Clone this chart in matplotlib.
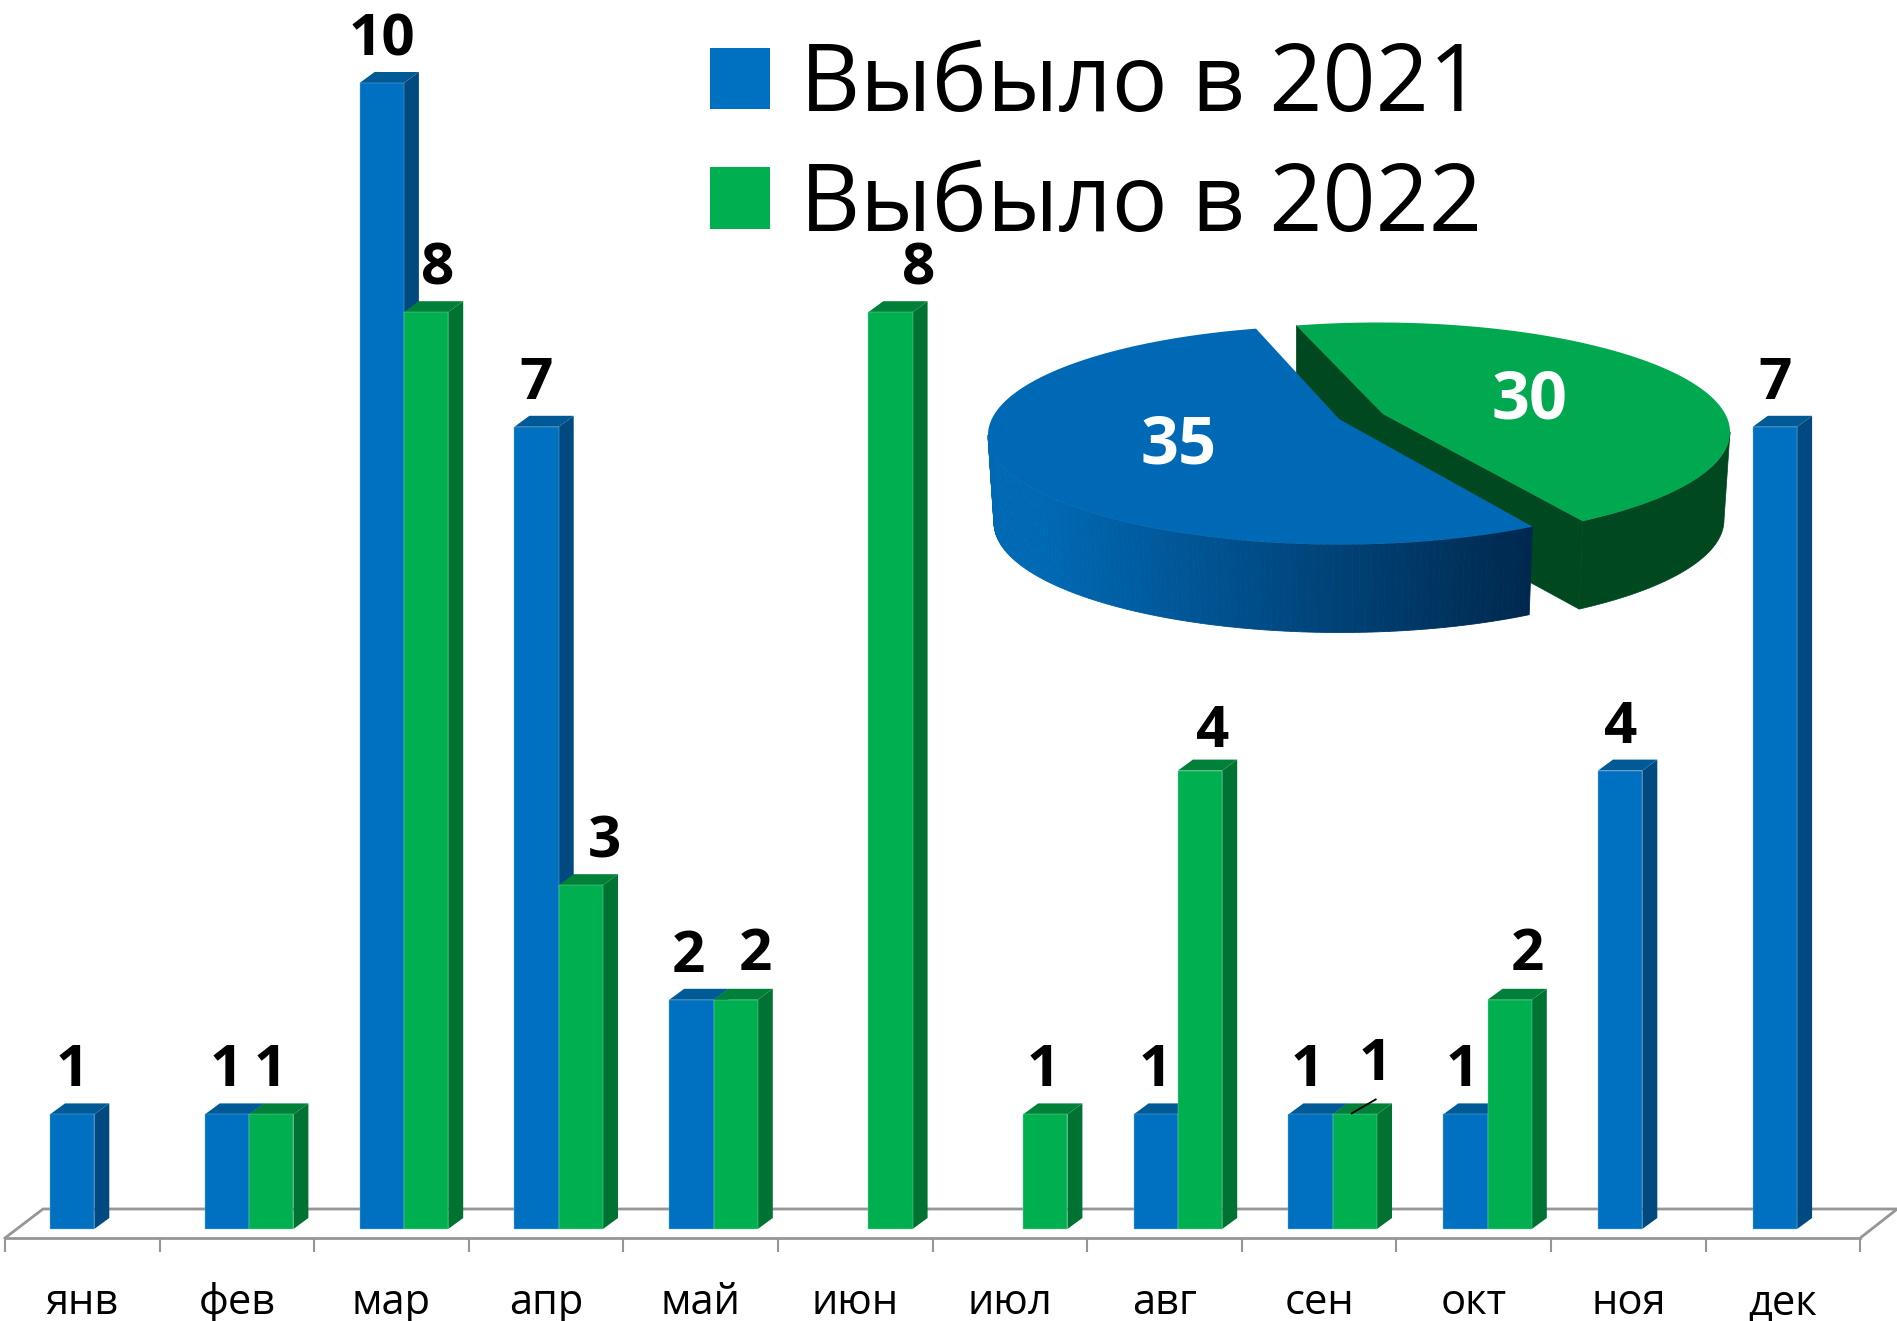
import numpy as np
import matplotlib
matplotlib.use("Agg")
import matplotlib.pyplot as plt
from matplotlib.patches import Polygon, Patch

months = ["янв", "фев", "мар", "апр", "май", "июн", "июл", "авг", "сен", "окт", "ноя", "дек"]
left_2021 = [1, 1, 10, 7, 2, 0, 0, 1, 1, 1, 4, 7]
right_2022 = [0, 1, 8, 3, 2, 8, 1, 4, 1, 2, 0, 0]
pie_values = [35, 30]
series_names = ["Выбыло в 2021", "Выбыло в 2022"]

W, H = 1897, 1321
FONT = ["Open Sans", "DejaVu Sans"]
plt.rcParams["font.family"] = FONT

BLUE, BLUE_SIDE, BLUE_TOP, BLUE_EDGE = "#0070c0", "#004a80", "#005a96", "#7fb7e0"
GREEN, GREEN_SIDE, GREEN_TOP, GREEN_EDGE = "#00b050", "#007232", "#008038", "#7fd8a8"
GREY = "#969696"

PX_X, PX_Y = 154.6, 114.6
X0_PX, Y0_PX = 5, 1229

fig = plt.figure(figsize=(W / 100, H / 100), dpi=100, facecolor="white")
ax = fig.add_axes([0, 0, 1, 1])
ax.set_xlim(-X0_PX / PX_X, (W - X0_PX) / PX_X)
ax.set_ylim(-(H - Y0_PX) / PX_Y, Y0_PX / PX_Y)
ax.patch.set_alpha(0)

# category axis moved to the front edge of the floor
for s in ("top", "left", "right"):
    ax.spines[s].set_visible(False)
ax.yaxis.set_visible(False)
FRONT = -9 / PX_Y
BACK = 20 / PX_Y
ax.spines["bottom"].set_position(("data", FRONT))
ax.spines["bottom"].set_bounds(0, 12)
ax.spines["bottom"].set_color(GREY)
ax.spines["bottom"].set_linewidth(2)
ax.set_xticks(np.arange(13))
ax.set_xticklabels([])
ax.set_xticks(np.arange(12) + 0.5, minor=True)
ax.set_xticklabels(months, minor=True, fontsize=30, color="black")
ax.tick_params(axis="x", which="major", length=10, width=1.5, color=GREY)
ax.tick_params(axis="x", which="minor", length=0, pad=32)

# floor outline
ax.plot([0, 38 / PX_X, 12 + 37 / PX_X, 12], [FRONT, BACK, BACK, FRONT], color=GREY, lw=2,
        solid_joinstyle="miter", zorder=1, clip_on=False)

BAR_W = 44.3 / PX_X
PITCH = 154.8 / PX_X
START = 45 / PX_X
DX, DY = 15 / PX_X, 11 / PX_Y


def draw_bars(values, shift, face, side, top, edge, z):
    for i, v in enumerate(values):
        if not v:
            continue
        x = START + i * PITCH + shift
        ax.add_patch(Polygon([(x + BAR_W, 0), (x + BAR_W + DX, DY), (x + BAR_W + DX, v + DY), (x + BAR_W, v)],
                             closed=True, fc=side, ec="none", zorder=z))
        ax.add_patch(Polygon([(x, v), (x + DX, v + DY), (x + BAR_W + DX, v + DY), (x + BAR_W, v)],
                             closed=True, fc=top, ec="none", zorder=z))
        ax.bar(x, v, width=BAR_W, align="edge", color=face, edgecolor=edge, linewidth=0.3, zorder=z + 0.5)


draw_bars(left_2021, 0, BLUE, BLUE_SIDE, BLUE_TOP, BLUE_EDGE, 3)
draw_bars(right_2022, BAR_W, GREEN, GREEN_SIDE, GREEN_TOP, GREEN_EDGE, 4)

# data labels
blue_dx = [0, -1, 0, 0, -3, 0, 0, 0, -3, -3, 0, 0]
green_dx = [0, -1, 12, 24, 20, 28, -2, 13, 20, 18, 0, 0]
green_dy = [0, 0, 0, 0, 2, 0, 0, -4, 6, 2, 0, 0]
LABEL_FS = 42
for i, v in enumerate(left_2021):
    if v:
        ax.text(START + i * PITCH + BAR_W / 2 + blue_dx[i] / PX_X, v + 43 / PX_Y, str(v), ha="center",
                va="center", fontsize=LABEL_FS, fontweight="bold", color="black", zorder=8)
for i, v in enumerate(right_2022):
    if v:
        ax.text(START + i * PITCH + 1.5 * BAR_W + green_dx[i] / PX_X, v + (43 + green_dy[i]) / PX_Y, str(v),
                ha="center", va="center", fontsize=LABEL_FS, fontweight="bold", color="black", zorder=8)
# small leader line at сен
i_sep = months.index("сен")
x_sep = START + i_sep * PITCH + BAR_W
ax.plot([x_sep + 19 / PX_X, x_sep + 43 / PX_X],
        [right_2022[i_sep] + 1 / PX_Y, right_2022[i_sep] + 15 / PX_Y], color="black", lw=1.3, zorder=8)

# legend
handles = [Patch(fc=BLUE, ec="none"), Patch(fc=GREEN, ec="none")]
leg = ax.legend(handles, series_names, loc="upper left", bbox_to_anchor=(710 / W, 1 - 40 / H),
                frameon=False, fontsize=67, handlelength=0.64, handleheight=0.64, handletextpad=0.33,
                labelspacing=0.285, borderpad=0, borderaxespad=0)
for t in leg.get_texts():
    t.set_color("black")
leg.set_zorder(9)

# inset 3-D pie, drawn on pixel coordinates
pax = fig.add_axes([0, 0, 1, 1])
pax.set_xlim(0, W)
pax.set_ylim(H, 0)
pax.axis("off")
pax.patch.set_alpha(0)

total = sum(pie_values)
spans = [360 * v / total for v in pie_values]
PERSPECTIVE = [5.5, -8.3]          # foreshortening of the exploded slices, degrees
START_DEG = [103.8, 103.4]
A, B = 352, 109.5
BLUE_C, GREEN_C = (1340, 435), (1378, 432)
BLUE_APEX, GREEN_APEX = (1339, 419), (1383, 414)
A_LOW, LOW_DROP = 346, 88
P_BLUE_TOP, P_GREEN_TOP = "#0069b6", "#00a84f"
P_GREEN_DARK = "#004820"


def pt(c, deg, a=A, drop=0):
    r = np.deg2rad(deg)
    return (c[0] + a * np.cos(r), c[1] - B * np.sin(r) + drop)


b0, b1 = START_DEG[0], START_DEG[0] + spans[0] + PERSPECTIVE[0]
g0, g1 = START_DEG[1], START_DEG[1] - spans[1] - PERSPECTIVE[1]

# green slice: cut faces, rim, then top
g_apex_low = (GREEN_APEX[0], GREEN_APEX[1] + LOW_DROP)
g_start, g_end = pt(GREEN_C, g0), pt(GREEN_C, g1)
g_start_low = (g_start[0], g_start[1] + LOW_DROP)
g_end_low = pt(GREEN_C, g1, A_LOW, LOW_DROP)
pax.add_patch(Polygon([g_start, GREEN_APEX, g_apex_low, g_start_low], fc=P_GREEN_DARK, ec=P_GREEN_DARK, lw=0.5, zorder=1))
pax.add_patch(Polygon([GREEN_APEX, g_end, g_end_low, g_apex_low], fc=P_GREEN_DARK, ec=P_GREEN_DARK, lw=0.5, zorder=1))
th = np.linspace(g1, 0, 80)
rim = [pt(GREEN_C, t) for t in th] + [pt(GREEN_C, t, A_LOW, LOW_DROP) for t in th[::-1]]
pax.add_patch(Polygon(rim, fc=P_GREEN_DARK, ec=P_GREEN_DARK, lw=0.5, zorder=1))
th = np.linspace(g0, g1, 200)
pax.add_patch(Polygon([GREEN_APEX] + [pt(GREEN_C, t) for t in th], fc=P_GREEN_TOP, ec="none", zorder=2))

# blue slice: shaded rim and top
edge_deg = np.linspace(180, b1, 120)
c_from = np.array([0x00, 0x69, 0xb4]) / 255
c_to = np.array([0x00, 0x28, 0x4e]) / 255
for k in range(len(edge_deg) - 1):
    t0, t1 = edge_deg[k], edge_deg[k + 1]
    f = (pt(BLUE_C, (t0 + t1) / 2)[0] - (BLUE_C[0] - A)) / (pt(BLUE_C, b1)[0] - (BLUE_C[0] - A))
    f = np.clip((f - 0.1) / 0.9, 0, 1)
    col = c_from + (c_to - c_from) * f
    pax.add_patch(Polygon([pt(BLUE_C, t0), pt(BLUE_C, t1), pt(BLUE_C, t1, A_LOW, LOW_DROP), pt(BLUE_C, t0, A_LOW, LOW_DROP)],
                          fc=col, ec=col, lw=0.6, zorder=3))
th = np.linspace(b0, b1, 240)
pax.add_patch(Polygon([BLUE_APEX] + [pt(BLUE_C, t) for t in th], fc=P_BLUE_TOP, ec="none", zorder=4))

pax.text(1179, 446, str(pie_values[0]), color="white", fontsize=48, fontweight="bold", ha="center", va="center", zorder=5)
pax.text(1530, 401, str(pie_values[1]), color="white", fontsize=48, fontweight="bold", ha="center", va="center", zorder=5)

fig.savefig("out.png", dpi=100, facecolor="white")
